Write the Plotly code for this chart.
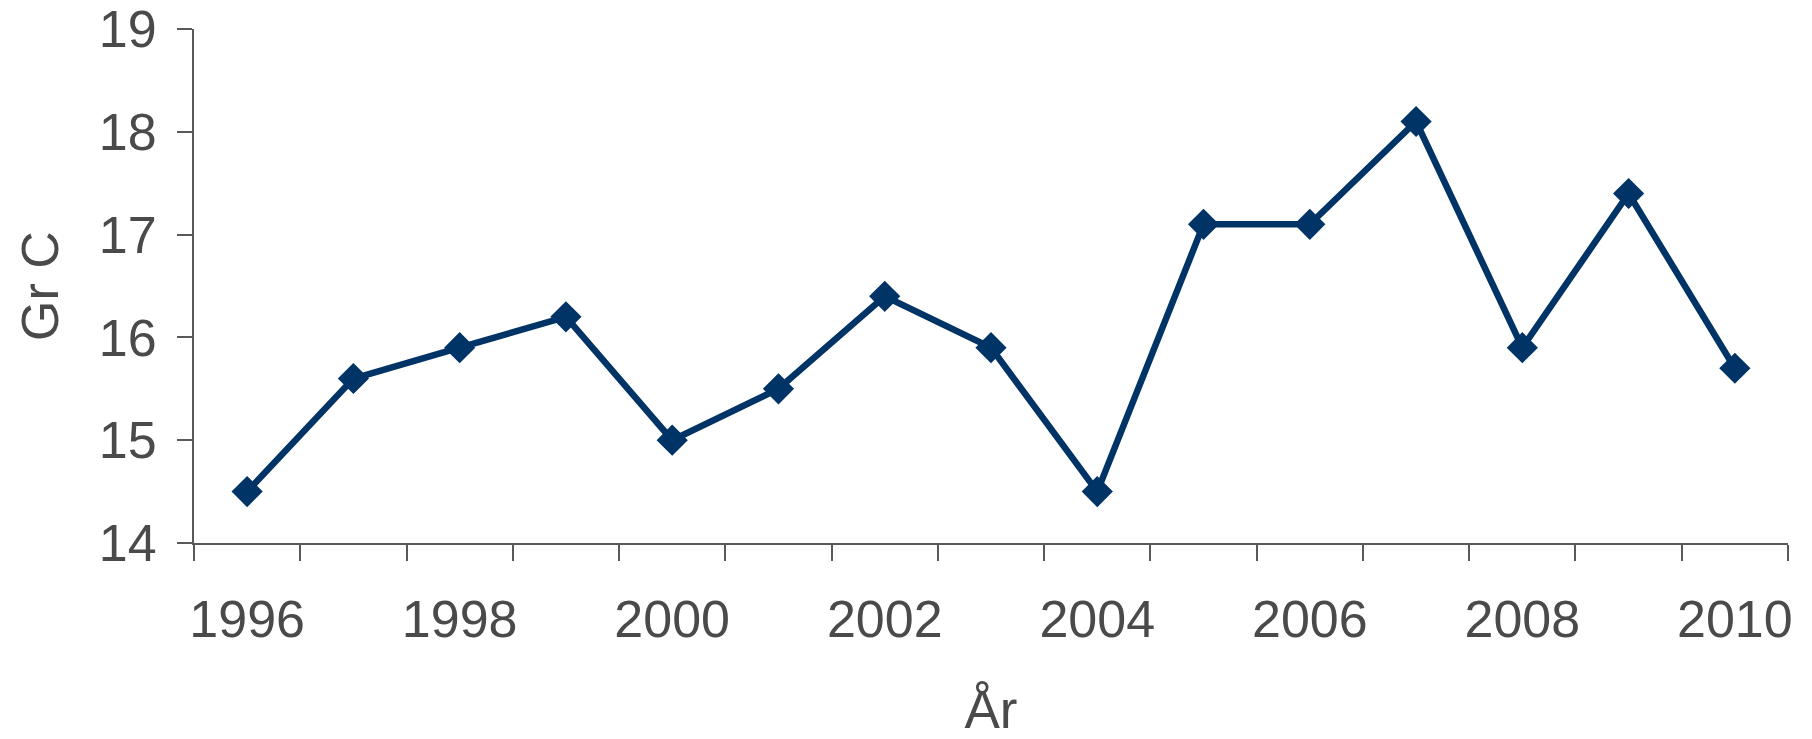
import plotly.graph_objects as go

# Annual values
years = [1996, 1997, 1998, 1999, 2000, 2001, 2002, 2003, 2004, 2005, 2006, 2007, 2008, 2009, 2010]
values = [14.5, 15.6, 15.9, 16.2, 15.0, 15.5, 16.4, 15.9, 14.5, 17.1, 17.1, 18.1, 15.9, 17.4, 15.7]
label_years = years[::2]
y_ticks = [14, 15, 16, 17, 18, 19]

TEXT = "#4a4a4a"
AXIS = "#595959"
LINE = "#003366"
FONT = "Liberation Sans, Arial, Helvetica, sans-serif"

# category boundaries, used for the x tick marks
boundaries = [y - 0.5 for y in years] + [years[-1] + 0.5]

fig = go.Figure(
    go.Scatter(
        x=years,
        y=values,
        mode="lines+markers",
        line=dict(color=LINE, width=6.5),
        marker=dict(symbol="diamond", size=24, color=LINE),
        cliponaxis=False,
        showlegend=False,
    )
)

fig.update_layout(
    width=1812,
    height=739,
    margin=dict(l=194, r=24, t=29, b=196),
    paper_bgcolor="white",
    plot_bgcolor="white",
    font=dict(family=FONT, color=TEXT, size=52),
    xaxis=dict(
        range=[boundaries[0], boundaries[-1]],
        tickvals=label_years,
        ticktext=[str(y) for y in label_years],
        ticks="",
        showgrid=False,
        zeroline=False,
        showline=True,
        linecolor=AXIS,
        linewidth=2,
        automargin=False,
        tickfont=dict(size=52, color=TEXT),
        ticklabelstandoff=30,
        minor=dict(tickvals=boundaries, ticks="outside", ticklen=16,
                   tickcolor=AXIS, tickwidth=2, showgrid=False),
        title=dict(text="År", font=dict(size=53, color=TEXT), standoff=49),
    ),
    yaxis=dict(
        range=[14, 19],
        tickvals=y_ticks,
        ticks="outside",
        ticklen=15,
        tickwidth=2,
        tickcolor=AXIS,
        showgrid=False,
        zeroline=False,
        showline=True,
        linecolor=AXIS,
        linewidth=2,
        automargin=False,
        tickfont=dict(size=52, color=TEXT),
        ticklabelstandoff=10,
        title=dict(text="Gr C", font=dict(size=52, color=TEXT), standoff=24),
    ),
)

fig.write_html("out.html")
